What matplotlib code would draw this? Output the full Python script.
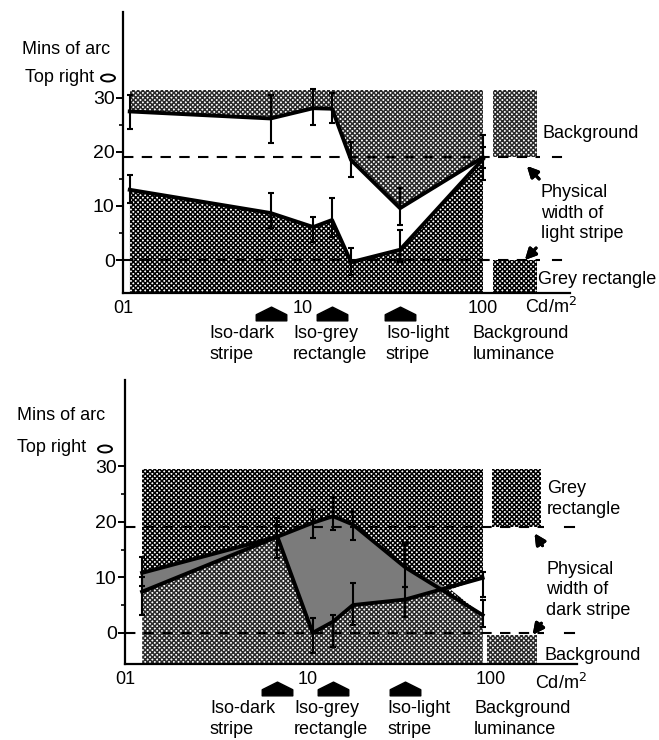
import numpy as np
import matplotlib
matplotlib.use('Agg')
import matplotlib.pyplot as plt
from matplotlib.path import Path
from matplotlib.patches import PathPatch, Ellipse

plt.rcParams['font.family'] = ['Liberation Sans', 'DejaVu Sans']
plt.rcParams['hatch.linewidth'] = 1.1

W, H = 659, 740

# ---- upper panel: light stripe ----
lum_a = [0.109, 0.66, 1.14, 1.45, 1.85, 3.46, 10.0]
top_a = [27.5, 26.2, 28.1, 28.0, 18.5, 9.6, 19.0]
top_a_lo = [24.3, 21.7, 25.0, 25.4, 15.4, 6.5, 17.0]
top_a_hi = [30.5, 30.5, 31.6, 31.0, 21.8, 13.3, 23.1]
bot_a = [13.0, 8.7, 6.1, 7.4, -0.4, 1.9, 18.7]
bot_a_lo = [10.5, 6.0, 3.3, 4.3, -2.8, -0.4, 14.8]
bot_a_hi = [15.7, 12.4, 8.0, 11.5, 2.2, 5.5, 21.0]

# ---- lower panel: dark stripe ----
lum_b = [0.124, 0.68, 1.06, 1.37, 1.76, 3.4, 9.0]
top_b = [10.8, 17.3, 19.8, 21.0, 19.5, 11.8, 3.2]
top_b_lo = [8.5, 13.5, 17.1, 18.5, 16.8, 8.3, 1.1]
top_b_hi = [13.7, 20.7, 22.1, 24.5, 21.8, 16.2, 6.0]
bot_b = [7.4, 17.3, 0.0, 2.0, 5.0, 6.0, 9.9]
bot_b_lo = [3.2, 15.0, -3.6, -2.5, 1.4, 2.9, 6.5]
bot_b_hi = [10.0, 19.5, 2.7, 3.2, 9.0, 8.3, 11.0]

iso_idx = [1, 3, 5]  # iso-dark, iso-grey, iso-light
physical = [0, 19]
stipple_top = [31.5, 29.5]

iso_names = ['Iso-dark\nstripe', 'Iso-grey\nrectangle', 'Iso-light\nstripe']
xtick_vals = [0.1, 1.0, 10.0]
xtick_labels = ['01', '10', '100']
ytick_vals = [0, 10, 20, 30]

FS = 13
DENSE = '#000000'
LIGHT = '#2a2a2a'
HATCH = 'xxxxxxx'


def at(px, py):
    return px / W, 1 - py / H


fig = plt.figure(figsize=(W / 100, H / 100), dpi=100)
ax1 = fig.add_axes([123 / W, 1 - 293 / H, (570 - 123) / W, (293 - 12) / H])
ax2 = fig.add_axes([125 / W, 1 - 664 / H, (577 - 125) / W, (664 - 380) / H])
ax1.set_xlim(0.1, 10 ** (-1 + 447 / 180))
ax1.set_ylim(-6.1, 45.9)
ax2.set_xlim(0.1, 10 ** (-1 + 452 / 183))
ax2.set_ylim(-5.6, 45.5)


def panel(ax, x, up, up_lo, up_hi, lo, lo_lo, lo_hi, top, c_up, c_lo, mid_dark):
    x = np.array(x)
    up = np.array(up)
    lo = np.array(lo)
    ybot = ax.get_ylim()[0]
    # upper stipple over the whole block
    ax.fill_between(x, ybot, top, facecolor='white', edgecolor=c_up,
                    hatch=HATCH, linewidth=0, zorder=1)
    # lower stipple, below both curves
    clipA = ax.fill_between(x, ybot, lo, facecolor='none', edgecolor='none', zorder=0)
    coll = ax.fill_between(x, ybot, up, facecolor='white', edgecolor=c_lo,
                           hatch=HATCH, linewidth=0, zorder=2)
    coll.set_clip_path(PathPatch(clipA.get_paths()[0], transform=ax.transData))
    # between the curves
    ax.fill_between(x, up, lo, where=up >= lo, interpolate=True,
                    facecolor=mid_dark, edgecolor='none', zorder=3)
    ax.fill_between(x, up, lo, where=lo > up, interpolate=True,
                    facecolor='white', edgecolor='none', zorder=3)
    for y, ylo, yhi in ((up, up_lo, up_hi), (lo, lo_lo, lo_hi)):
        ax.plot(x, y, color='black', lw=2.8, zorder=5, solid_joinstyle='round')
        ax.errorbar(x, y, yerr=[y - np.array(ylo), np.array(yhi) - y], fmt='none',
                    ecolor='black', elinewidth=1.5, capsize=2.5, capthick=1.5, zorder=5)


panel(ax1, lum_a, top_a, top_a_lo, top_a_hi, bot_a, bot_a_lo, bot_a_hi,
      stipple_top[0], LIGHT, DENSE, 'white')
panel(ax2, lum_b, top_b, top_b_lo, top_b_hi, bot_b, bot_b_lo, bot_b_hi,
      stipple_top[1], DENSE, LIGHT, '#7b7b7b')

# legend swatches, dashed reference lines
ax1.fill_between([11.4, 19.9], physical[1], stipple_top[0], facecolor='white',
                 edgecolor=LIGHT, hatch=HATCH, linewidth=0, zorder=1)
ax1.fill_between([11.4, 19.9], -6.1, physical[0], facecolor='white',
                 edgecolor=DENSE, hatch=HATCH, linewidth=0, zorder=1)
ax2.fill_between([10.1, 18.8], physical[1], stipple_top[1], facecolor='white',
                 edgecolor=DENSE, hatch=HATCH, linewidth=0, zorder=1)
ax2.fill_between([9.5, 17.8], -5.6, -0.4, facecolor='white',
                 edgecolor=LIGHT, hatch=HATCH, linewidth=0, zorder=1)

for ax, xend, xs in ((ax1, 20.7, (24.5, 27.2)), (ax2, 19.5, (25.5, 28.5))):
    for y in physical:
        ax.plot([ax.get_xlim()[0], xend], [y, y], color='black', lw=1.5,
                ls=(0, (5, 4)), zorder=4)
        ax.plot(xs, [y, y], color='black', lw=1.5, zorder=4)

# iso markers below the axis
house = Path([(-1, -0.35), (1, -0.35), (1, 0.05), (0, 0.55), (-1, 0.05), (-1, -0.35)],
             [Path.MOVETO] + [Path.LINETO] * 4 + [Path.CLOSEPOLY])
for ax, lum, yax in ((ax1, lum_a, -0.078), (ax2, lum_b, -0.092)):
    ax.plot([lum[i] for i in iso_idx], [yax] * 3, ls='none', marker=house,
            markersize=22, color='black', clip_on=False,
            transform=ax.get_xaxis_transform())

for ax in (ax1, ax2):
    ax.set_xscale('log')
    ax.set_xticks(xtick_vals)
    ax.set_xticklabels(xtick_labels, fontsize=FS)
    ax.xaxis.set_minor_locator(plt.NullLocator())
    ax.tick_params(axis='x', length=0, pad=5)
    ax.set_yticks(ytick_vals)
    ax.set_yticks([5, 15, 25], minor=True)
    ax.set_yticklabels([str(v) for v in ytick_vals], fontsize=14)
    ax.tick_params(axis='y', length=5, width=1.4, pad=1)
    ax.tick_params(axis='y', which='minor', length=3, width=1.2)
    for s in ('top', 'right'):
        ax.spines[s].set_visible(False)
    ax.spines['left'].set_linewidth(1.6)
    ax.spines['bottom'].set_linewidth(1.6)
    ax.patch.set_alpha(0)

# texts
for (px, py), s in (((22, 50), 'Mins of arc'), ((25, 77), 'Top right'),
                    ((17, 415), 'Mins of arc'), ((17, 447), 'Top right')):
    fig.text(*at(px, py), s, fontsize=FS, va='center', ha='left')
for px, py in ((108, 78), (105, 449)):
    fig.add_artist(Ellipse(at(px, py), 14 / W, 7 / H, transform=fig.transFigure,
                           facecolor='white', edgecolor='black', lw=1.4))

for x0, y0 in ((209, 333), (210, 708)):
    offs = [0, 84, 177]
    for k, s in enumerate(iso_names):
        fig.text(*at(x0 + offs[k], y0 + 11), s, fontsize=FS, va='center', ha='left',
                 linespacing=1.3)
    fig.text(*at(x0 + 264, y0 + 11), 'Background\nluminance', fontsize=FS,
             va='center', ha='left', linespacing=1.3)
fig.text(*at(525, 307), 'Cd/m$^2$', fontsize=FS, va='center', ha='left')
fig.text(*at(535, 683), 'Cd/m$^2$', fontsize=FS, va='center', ha='left')

fig.text(*at(543, 133), 'Background', fontsize=FS, va='center', ha='left')
fig.text(*at(541, 213), 'Physical\nwidth of\nlight stripe', fontsize=FS, va='center',
         ha='left', linespacing=1.25)
fig.text(*at(538, 280), 'Grey rectangle', fontsize=FS, va='center', ha='left')
fig.text(*at(547, 499), 'Grey\nrectangle', fontsize=FS, va='center', ha='left',
         linespacing=1.25)
fig.text(*at(546, 590), 'Physical\nwidth of\ndark stripe', fontsize=FS, va='center',
         ha='left', linespacing=1.25)
fig.text(*at(545, 655), 'Background', fontsize=FS, va='center', ha='left')

for tail, head in (((541, 181), (525, 164)), ((538, 246), (523, 262)),
                   ((544, 548), (533, 531)), ((543, 621), (531, 637))):
    fig.add_artist(plt.annotate('', xy=at(*head), xytext=at(*tail),
                                xycoords='figure fraction', textcoords='figure fraction',
                                arrowprops=dict(arrowstyle='-|>', color='black', lw=2.2,
                                                mutation_scale=16)))

fig.savefig('out.png', dpi=100)
